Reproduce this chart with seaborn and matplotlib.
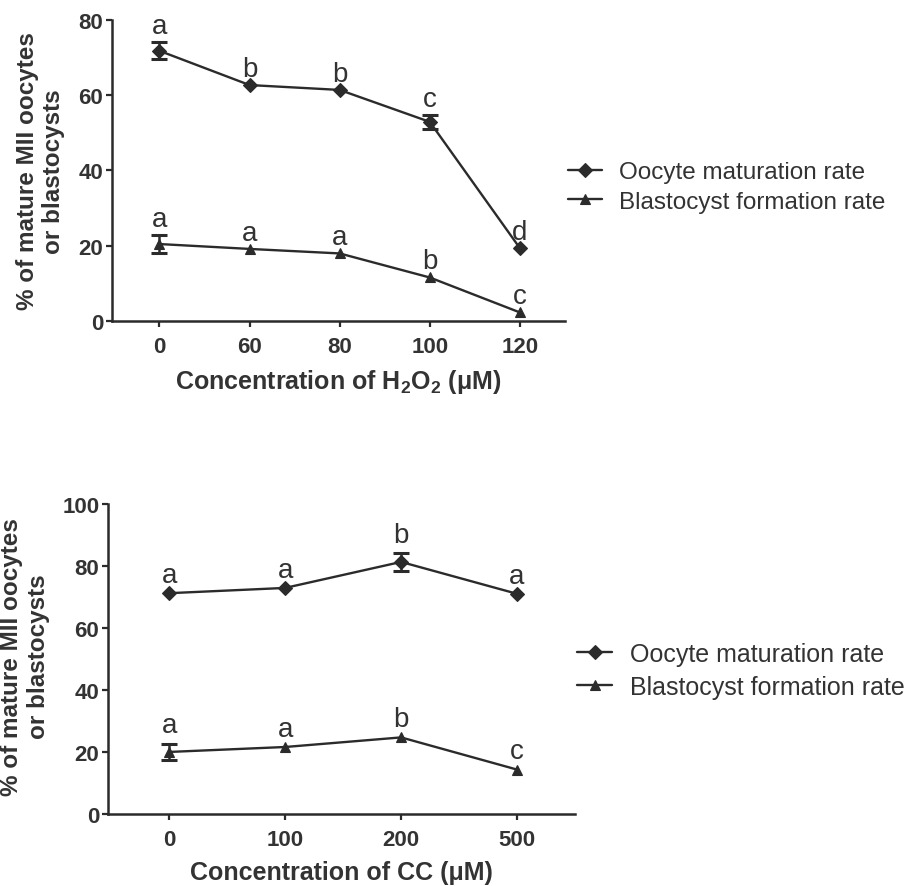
import numpy as np
import pandas as pd
import matplotlib
matplotlib.use("Agg")
import matplotlib.pyplot as plt
import seaborn as sns

# --- H2O2 experiment (top panel)
h2o2_labels = ["0", "60", "80", "100", "120"]
h2o2_oocyte = [71.8, 62.7, 61.4, 52.9, 19.3]
h2o2_oocyte_err = [2.3, 0, 0, 1.9, 0]
h2o2_oocyte_sig = ["a", "b", "b", "c", "d"]
h2o2_blasto = [20.4, 19.1, 17.9, 11.5, 2.2]
h2o2_blasto_err = [2.3, 0, 0, 0, 0]
h2o2_blasto_sig = ["a", "a", "a", "b", "c"]

# --- CC experiment (bottom panel)
cc_labels = ["0", "100", "200", "500"]
cc_oocyte = [71.2, 72.9, 81.3, 71.0]
cc_oocyte_err = [0, 0, 3.0, 0]
cc_oocyte_sig = ["a", "a", "b", "a"]
cc_blasto = [19.9, 21.5, 24.6, 14.2]
cc_blasto_err = [2.7, 0, 0, 0]
cc_blasto_sig = ["a", "a", "b", "c"]

oocyte_name = "Oocyte maturation rate"
blasto_name = "Blastocyst formation rate"
ylabel = "% of mature MII oocytes\nor blastocysts"

ink = "#2b2b2b"
txt = "#333333"

sns.set_theme(style="ticks")
plt.rcParams["font.family"] = ["Liberation Sans", "DejaVu Sans"]
plt.rcParams["font.weight"] = "bold"
plt.rcParams["mathtext.default"] = "regular"
plt.rcParams["text.color"] = txt
plt.rcParams["axes.labelcolor"] = txt
plt.rcParams["xtick.color"] = ink
plt.rcParams["ytick.color"] = ink
plt.rcParams["xtick.labelcolor"] = txt
plt.rcParams["ytick.labelcolor"] = txt

fig = plt.figure(figsize=(9.08, 8.87), dpi=100)
ax1 = fig.add_axes([0.1230, 0.6373, 0.4992, 0.3390])
ax2 = fig.add_axes([0.1186, 0.0817, 0.5147, 0.3489])


def draw_panel(ax, labels, oocyte, oocyte_err, oocyte_sig, blasto, blasto_err, blasto_sig,
               xlabel, ymax, sig_off):
    x = np.arange(len(labels))
    series = [
        (oocyte_name, oocyte, oocyte_err, oocyte_sig, "D", 6.8),
        (blasto_name, blasto, blasto_err, blasto_sig, "^", 7.5),
    ]
    for name, vals, errs, sig, mk, ms in series:
        df = pd.DataFrame({"x": x, "y": vals})
        sns.lineplot(data=df, x="x", y="y", ax=ax, color=ink, linewidth=1.7,
                     marker=mk, markersize=ms, markeredgecolor=ink, markeredgewidth=0.8,
                     label=name, errorbar=None, clip_on=False)
        idx = [i for i, e in enumerate(errs) if e > 0]
        ax.errorbar(x[idx], np.array(vals)[idx], yerr=np.array(errs)[idx], fmt="none",
                    ecolor=ink, elinewidth=1.8, capsize=5.5, capthick=2.2, clip_on=False)
        for i, s in enumerate(sig):
            ax.annotate(s, (x[i], vals[i] + errs[i]), xytext=(0, sig_off),
                        textcoords="offset points", ha="center", va="baseline",
                        fontsize=20, fontweight="normal", color=txt)

    ax.set_xlim(-0.53, len(labels) - 0.5)
    ax.set_ylim(0, ymax)
    ax.set_xticks(x)
    ax.set_xticklabels(labels)
    ax.set_yticks(np.arange(0, ymax + 1, 20))
    ax.tick_params(axis="both", direction="out", length=4, width=1.6, labelsize=16)
    ax.tick_params(axis="x", pad=7)
    ax.tick_params(axis="y", pad=2)
    ax.set_xlabel(xlabel, fontsize=18, fontweight="bold", labelpad=7)
    ax.set_ylabel("")
    sns.despine(ax=ax)
    for sp in ["left", "bottom"]:
        ax.spines[sp].set_linewidth(1.8)
        ax.spines[sp].set_color(ink)


draw_panel(ax1, h2o2_labels, h2o2_oocyte, h2o2_oocyte_err, h2o2_oocyte_sig,
           h2o2_blasto, h2o2_blasto_err, h2o2_blasto_sig,
           "Concentration of H$_2$O$_2$ (μM)", 80, 6.5)
draw_panel(ax2, cc_labels, cc_oocyte, cc_oocyte_err, cc_oocyte_sig,
           cc_blasto, cc_blasto_err, cc_blasto_sig,
           "Concentration of CC (μM)", 100, 8)

# y labels as figure text, two centred lines
fig.text(0.0446, 0.807, ylabel, rotation=90, ha="center", va="center",
         multialignment="center", fontsize=17.5, fontweight="bold", color=txt)
fig.text(0.0275, 0.2593, ylabel, rotation=90, ha="center", va="center",
         multialignment="center", fontsize=17.5, fontweight="bold", color=txt)

# legends to the right of each panel
for ax, anchor, fs, sp in [(ax1, (0.626, 0.788), 17.5, 0.32), (ax2, (0.6358, 0.2427), 18, 0.36)]:
    h, l = ax.get_legend_handles_labels()
    ax.legend(h, l, loc="center left", bbox_to_anchor=anchor, bbox_transform=fig.transFigure,
              frameon=False, prop={"size": fs, "weight": "normal"}, handlelength=1.4,
              handletextpad=0.7, labelspacing=sp, borderpad=0, borderaxespad=0,
              labelcolor=txt)

fig.savefig("out.png", dpi=100)
